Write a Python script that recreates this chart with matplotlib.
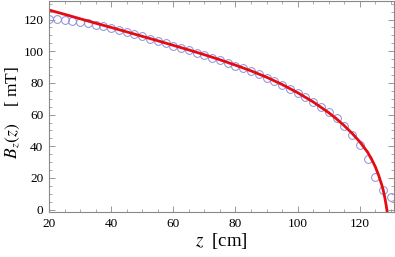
import matplotlib
matplotlib.use("Agg")
from matplotlib import pyplot as plt
from matplotlib.ticker import MultipleLocator

# measured field (circles)
z_data = [20, 22.5, 25, 27.5, 30, 32.5, 35, 37.5, 40, 42.5, 45, 47.5, 50,
          52.5, 55, 57.5, 60, 62.5, 65, 67.5, 70, 72.5, 75, 77.5, 80, 82.5,
          85, 87.5, 90, 92.5, 95, 97.5, 100, 102.5, 105, 107.5, 110, 112.5,
          115, 117.5, 120, 122.5, 125, 127.5, 130]
b_data = [120.2, 120.2, 119.9, 119.3, 118.6, 117.6, 116.6, 115.8, 114.9,
          113.7, 112.3, 110.9, 109.5, 108.0, 106.6, 105.1, 103.6, 102.1,
          100.6, 99.1, 97.5, 95.9, 94.2, 92.5, 90.8, 89.1, 87.3, 85.4, 83.4,
          81.2, 78.9, 76.4, 73.8, 71.1, 68.1, 64.9, 61.4, 57.6, 52.6, 47.2,
          40.9, 31.9, 20.6, 12.1, 8.0]

# fitted curve (red line)
z_fit = [20, 25, 30, 35, 40, 45, 50, 55, 60, 65, 70, 75, 80, 85, 90, 95, 100,
         105, 110, 112.5, 115, 117.5, 120, 122.5, 124, 125, 126, 127, 127.5,
         128, 128.5, 129]
b_fit = [126.0, 123.3, 120.5, 117.7, 115.0, 112.2, 109.4, 106.6, 103.7, 100.8,
         97.8, 94.6, 91.2, 87.6, 83.6, 79.0, 73.8, 68.0, 61.2, 57.3, 53.0,
         48.2, 42.8, 36.3, 31.0, 27.0, 22.0, 16.0, 12.5, 8.0, 2.5, -4.0]

plt.rcParams['font.family'] = ['Liberation Serif', 'DejaVu Serif']
plt.rcParams['mathtext.fontset'] = 'stix'

fig = plt.figure(figsize=(3.95, 2.57), dpi=100)
ax = fig.add_axes([0.124, 0.175, 0.8735, 0.823])

ax.plot(z_data, b_data, 'o', ms=5.6, mfc='none', mec='#8c8cdc', mew=0.7)
ax.plot(z_fit, b_fit, '-', color='#e40c10', lw=2)

ax.set_xlim(20, 131)
ax.set_ylim(-1.5, 132)
ax.xaxis.set_major_locator(MultipleLocator(20))
ax.xaxis.set_minor_locator(MultipleLocator(5))
ax.yaxis.set_major_locator(MultipleLocator(20))
ax.yaxis.set_minor_locator(MultipleLocator(5))

for s in ax.spines.values():
    s.set_color('#888888')
    s.set_linewidth(0.8)
ax.tick_params(which='both', direction='in', top=True, right=True,
               color='#888888', labelsize=9.5, pad=4)
ax.tick_params(which='major', length=4, width=0.6)
ax.tick_params(which='minor', length=2, width=0.5)

ax.set_xlabel(r'$z$  [cm]', fontsize=13.5, labelpad=1)
ax.set_ylabel(r'$\mathbf{\mathit{B}}_z(z)$    [ mT]', fontsize=12.5)
ax.yaxis.set_label_coords(-0.078, 0.47)

fig.savefig('out.png', dpi=100)
